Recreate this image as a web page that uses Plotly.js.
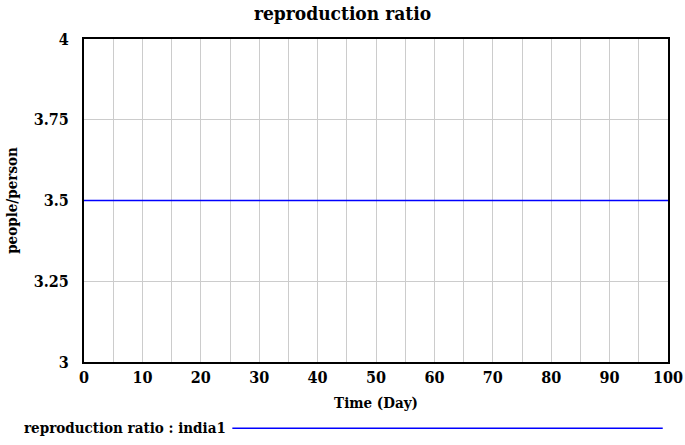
<!DOCTYPE html>
<html>
<head>
<meta charset="utf-8">
<script src="https://cdn.plot.ly/plotly-3.0.1.min.js"></script>
<style>html,body{margin:0;padding:0;background:#fff;}#chart{width:685px;height:445px;}</style>
</head>
<body>
<div id="chart"></div>
<script>
var time = [0, 10, 20, 30, 40, 50, 60, 70, 80, 90, 100];
var reproductionRatio = [3.5, 3.5, 3.5, 3.5, 3.5, 3.5, 3.5, 3.5, 3.5, 3.5, 3.5];
var yTicks = [3, 3.25, 3.5, 3.75, 4];
var yTickLabels = ['3', '3.25', '3.5', '3.75', '4'];
var xTicks = [0, 10, 20, 30, 40, 50, 60, 70, 80, 90, 100];
var seriesName = 'reproduction ratio : india1';

var font = 'DejaVu Serif Condensed';
var trace = {
  x: time, y: reproductionRatio, mode: 'lines', name: seriesName,
  line: {color: '#0000ff', width: 1.6}, showlegend: false, hoverinfo: 'skip'
};
var layout = {
  width: 685, height: 445,
  margin: {l: 84, r: 17, t: 39, b: 83},
  paper_bgcolor: '#fff', plot_bgcolor: '#fff',
  font: {family: font, color: '#000'},
  title: {text: '<b>reproduction ratio</b>', font: {family: font, size: 19, color: '#000'}, x: 0.5, xanchor: 'center', y: 0.985, yanchor: 'top'},
  xaxis: {
    range: [0, 100], tickvals: xTicks, ticktext: xTicks.map(String),
    showgrid: false, zeroline: false,
    showline: true, linecolor: '#000', linewidth: 2, mirror: true,
    ticks: '', tickfont: {family: font, size: 16, color: '#000', weight: 'bold'},
    title: {text: '<b>Time (Day)</b>', font: {family: font, size: 15, color: '#000'}, standoff: 11}
  },
  xaxis2: {
    range: [0, 100], overlaying: 'x', dtick: 5, tick0: 0,
    showgrid: true, gridcolor: '#cccccc', gridwidth: 1, showticklabels: false,
    zeroline: false, ticks: ''
  },
  yaxis: {
    range: [3, 4], tickvals: yTicks, ticktext: yTickLabels,
    showgrid: true, gridcolor: '#cccccc', gridwidth: 1, zeroline: false,
    showline: true, linecolor: '#000', linewidth: 2, mirror: true,
    ticks: '', ticklabelstandoff: 10, tickfont: {family: font, size: 16, color: '#000', weight: 'bold'},
    title: {text: '<b>people/person</b>', font: {family: font, size: 15, color: '#000'}, standoff: 12}
  },
  annotations: [{
    xref: 'paper', yref: 'paper', x: -0.107, y: -0.205, xanchor: 'left', yanchor: 'middle',
    text: '<b>' + seriesName + '</b>', showarrow: false,
    font: {family: font, size: 15, color: '#000'}
  }],
  shapes: [{
    type: 'line', xref: 'paper', yref: 'paper', x0: 0.254, x1: 0.991, y0: -0.205, y1: -0.205,
    line: {color: '#0000ff', width: 1.6}
  }]
};
var gridTrace = {x: [0, 100], y: [3, 3], xaxis: 'x2', mode: 'lines', line: {width: 0}, showlegend: false, hoverinfo: 'skip'};
Plotly.newPlot('chart', [gridTrace, trace], layout, {staticPlot: true, displayModeBar: false});
</script>
</body>
</html>
